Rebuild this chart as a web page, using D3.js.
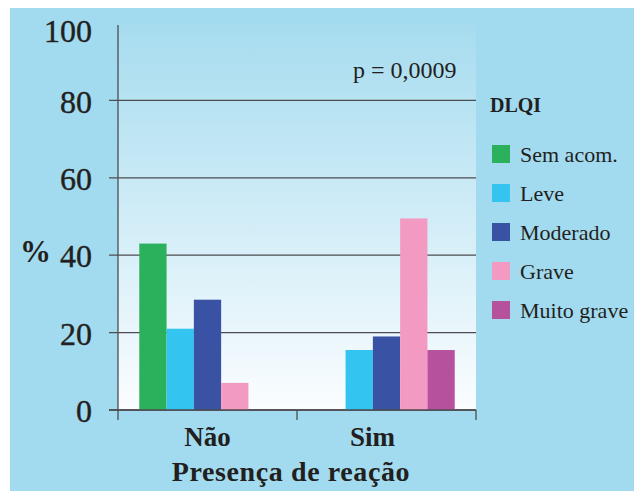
<!DOCTYPE html>
<html>
<head>
<meta charset="utf-8">
<script src="https://cdn.jsdelivr.net/npm/d3@7"></script>
<style>
  body { margin: 0; background: #fff; }
  text { font-family: "Liberation Serif", "DejaVu Serif", serif; fill: #231f20; }
</style>
</head>
<body>
<div id="chart"></div>
<script>
// data
var categories = ["Não", "Sim"];
var series = ["Sem acom.", "Leve", "Moderado", "Grave", "Muito grave"];
var naoValues = [43, 21, 28.5, 7, 0];
var simValues = [0, 15.5, 19, 49.5, 15.5];
var yTicks = [0, 20, 40, 60, 80, 100];

var colors = ["#2bb05b", "#33c4f0", "#3a52a3", "#f39ac2", "#b6519e"];

var width = 634,
    height = 491;

var plotLeft = 118, plotRight = 476, plotTop = 23, plotBottom = 410;

var svg = d3.select("#chart")
    .append("svg")
    .attr("width", width)
    .attr("height", height);

// outer blue panel
svg.append("rect")
    .attr("x", 10).attr("y", 8)
    .attr("width", width - 10).attr("height", height - 8)
    .attr("fill", "#a2dbef");

var defs = svg.append("defs");
var grad = defs.append("linearGradient")
    .attr("id", "plotbg")
    .attr("x1", 0).attr("y1", 0).attr("x2", 0).attr("y2", 1);
grad.append("stop").attr("offset", "0").attr("stop-color", "#a6dcef");
grad.append("stop").attr("offset", "1").attr("stop-color", "#fbfdff");

var y = d3.scaleLinear().domain([0, 100]).range([plotBottom, plotTop]);

var x = d3.scaleBand().domain(categories).range([plotLeft, plotRight]).padding(0);

var xInner = d3.scaleBand()
    .domain(series)
    .range([0, x.bandwidth()])
    .paddingInner(0)
    .paddingOuter(0.78);

// plot background
svg.append("rect")
    .attr("x", plotLeft).attr("y", y(100))
    .attr("width", plotRight - plotLeft).attr("height", y(0) - y(100))
    .attr("fill", "url(#plotbg)");

// grid lines + ticks
svg.append("g")
    .selectAll("line")
    .data(yTicks.filter(function (d) { return d < 100; }))
    .enter()
    .append("line")
    .attr("x1", plotLeft - 9)
    .attr("x2", plotRight)
    .attr("y1", function (d) { return y(d); })
    .attr("y2", function (d) { return y(d); })
    .attr("stroke", "#4d4d4f")
    .attr("stroke-width", 1.3);

// bars
var rows = [naoValues, simValues];
var groups = svg.append("g")
    .selectAll("g")
    .data(categories)
    .enter()
    .append("g")
    .attr("transform", function (d) { return "translate(" + x(d) + ",0)"; });

groups.selectAll("rect")
    .data(function (d, i) {
        return series.map(function (s, j) {
            return { series: s, value: rows[i][j], color: colors[j] };
        });
    })
    .enter()
    .append("rect")
    .attr("x", function (d) { return xInner(d.series); })
    .attr("width", xInner.bandwidth())
    .attr("y", function (d) { return y(d.value); })
    .attr("height", function (d) { return y(0) - y(d.value); })
    .attr("fill", function (d) { return d.color; });

// baseline over bars
svg.append("line")
    .attr("x1", plotLeft - 9).attr("x2", plotRight)
    .attr("y1", y(0)).attr("y2", y(0))
    .attr("stroke", "#4d4d4f").attr("stroke-width", 1.3);

// y axis line
svg.append("line")
    .attr("x1", plotLeft).attr("x2", plotLeft)
    .attr("y1", y(100) + 2).attr("y2", y(0) + 10)
    .attr("stroke", "#4d4d4f").attr("stroke-width", 1.3);

// x ticks between / after categories
svg.append("g")
    .selectAll("line")
    .data(categories)
    .enter()
    .append("line")
    .attr("x1", function (d) { return x(d) + x.bandwidth(); })
    .attr("x2", function (d) { return x(d) + x.bandwidth(); })
    .attr("y1", y(0))
    .attr("y2", y(0) + 10)
    .attr("stroke", "#4d4d4f").attr("stroke-width", 1.3);

// y tick labels
svg.append("g")
    .selectAll("text")
    .data(yTicks)
    .enter()
    .append("text")
    .attr("x", 92)
    .attr("y", function (d) { return y(d); })
    .attr("dy", function (d) { return d == 100 ? "0.6em" : "0.38em"; })
    .attr("text-anchor", "end")
    .style("font-size", "32px")
    .style("stroke", "#231f20")
    .style("stroke-width", 0.4)
    .text(function (d) { return d; });

svg.append("text")
    .attr("x", 20).attr("y", 262)
    .style("font-size", "31px")
    .style("font-weight", "bold")
    .text("%");

// category labels
svg.append("g")
    .selectAll("text")
    .data(categories)
    .enter()
    .append("text")
    .attr("x", function (d, i) { return x(d) + x.bandwidth() / 2 - (i == 1 ? 14 : 0); })
    .attr("y", 446)
    .attr("text-anchor", "middle")
    .style("font-size", "27px")
    .style("font-weight", "bold")
    .text(function (d) { return d; });

svg.append("text")
    .attr("x", 291).attr("y", 481)
    .attr("text-anchor", "middle")
    .style("font-size", "28px")
    .style("font-weight", "bold")
    .style("letter-spacing", "0.6px")
    .text("Presença de reação");

svg.append("text")
    .attr("x", 353).attr("y", 78)
    .style("font-size", "24px")
    .text("p = 0,0009");

// legend
svg.append("text")
    .attr("x", 490).attr("y", 112)
    .style("font-size", "20px")
    .style("font-weight", "bold")
    .text("DLQI");

var legend = svg.append("g")
    .selectAll("g")
    .data(series)
    .enter()
    .append("g")
    .attr("transform", function (d, i) { return "translate(492," + (154 + i * 39) + ")"; });

legend.append("rect")
    .attr("x", 0).attr("y", -9)
    .attr("width", 18).attr("height", 18)
    .attr("fill", function (d, i) { return colors[i]; });

legend.append("text")
    .attr("x", 28)
    .attr("y", 0)
    .attr("dy", "0.35em")
    .style("font-size", "22px")
    .text(function (d) { return d; });
</script>
</body>
</html>
